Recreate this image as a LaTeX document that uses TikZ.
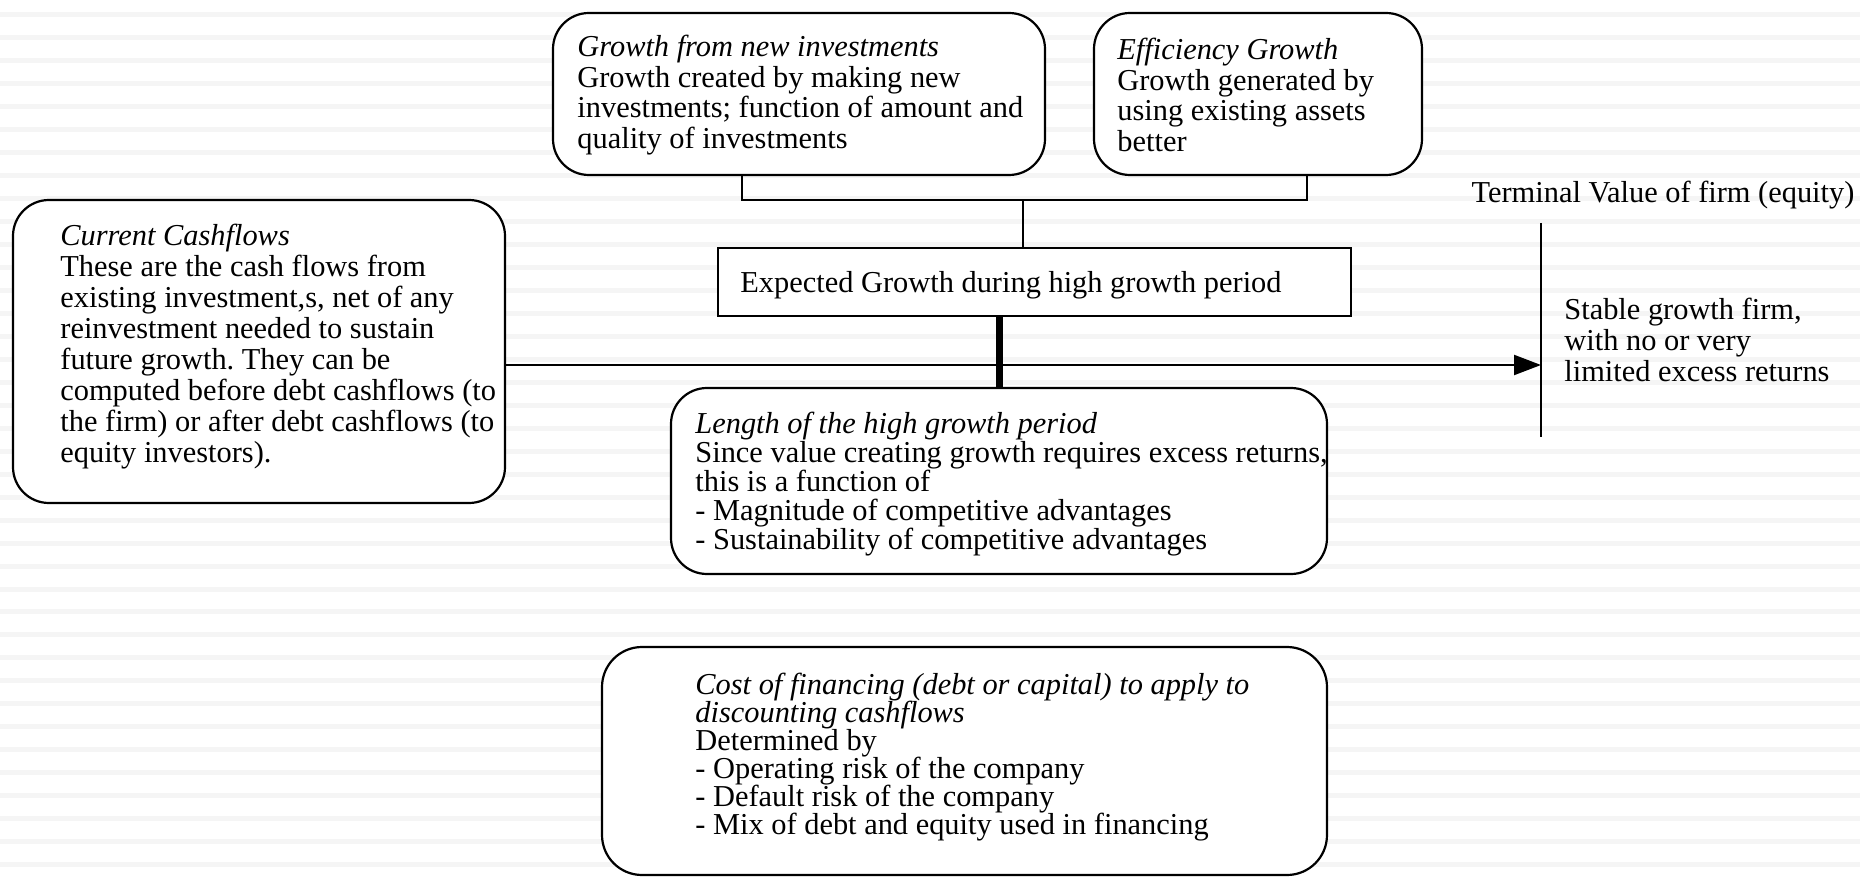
\documentclass[tikz,border=0pt]{standalone}
\usepackage{fontspec}
\setmainfont{Liberation Serif}
\frenchspacing
\usetikzlibrary{arrows.meta}
\tikzstyle{rbox}	= [draw=black, line width=1.1pt, fill=white, rounded corners=18pt, inner sep=0pt]
\tikzstyle{sbox}	= [draw=black, line width=1.1pt, fill=white, inner sep=0pt]
\tikzstyle{txt}		= [align=left, inner sep=0pt, anchor=west, font=\fontsize{15.2}{14.8}\selectfont]
\tikzstyle{stripe}	= [fill=black!4]
\tikzstyle{link}	= [draw, line width=1.1pt]
\tikzstyle{bar}		= [draw, line width=3.5pt]
\tikzstyle{flow}	= [draw, line width=1.1pt, -{Triangle[length=13.5pt,width=10pt]}]

\begin{document}
\begin{tikzpicture}[x=0.5pt, y=-0.5pt]
		\useasboundingbox (0,0) rectangle (1860,877);
		
		%%%% background stripes
		\foreach \k in {0,...,37}
		\fill[stripe] (0,{12+22.98*\k}) rectangle (1860,{17+22.98*\k});
		
		%%%% boxes
		\node[rbox, minimum width=246pt, minimum height=81pt] (newinv) at (799,94) {};
		\node[rbox, minimum width=164pt, minimum height=81pt] (effic) at (1258,94) {};
		\node[sbox, minimum width=316.5pt, minimum height=34pt] (expgr) at (1034.5,282) {};
		\node[rbox, minimum width=246pt, minimum height=151.5pt] (cash) at (259,351.5) {};
		\node[rbox, minimum width=328pt, minimum height=93pt] (hilen) at (999,481) {};
		\node[rbox, minimum width=362.5pt, minimum height=114pt, rounded corners=20pt] (cost) at (964.5,761) {};
		
		%%%% texts
		\node[txt, font=\fontsize{15.2}{15.4}\selectfont] (newinvt) at (577,95) {\textit{Growth from new investments}\\Growth created by making new\\investments; function of amount and\\quality of investments};
		\node[txt, font=\fontsize{15.2}{15.4}\selectfont] (effict) at (1117,95) {\textit{Efficiency Growth}\\Growth generated by\\using existing assets\\better};
		\node[txt] (expgrt) at (740,285) {Expected Growth during high growth period};
		\node[txt, font=\fontsize{15.2}{15.5}\selectfont] (casht) at (60,346.5) {\textit{Current Cashflows}\\These are the cash flows from\\existing investment,s, net of any\\reinvestment needed to sustain\\future growth. They can be\\computed before debt cashflows (to\\the firm) or after debt cashflows (to\\equity investors).};
		\node[txt, font=\fontsize{15.2}{14.5}\selectfont] (hilent) at (695,484) {\textit{Length of the high growth period}\\Since value creating growth requires excess returns,\\this is a function of\\- Magnitude of competitive advantages\\- Sustainability of competitive advantages};
		\node[txt, font=\fontsize{15.2}{14}\selectfont] (costt) at (695,757) {\textit{Cost of financing (debt or capital) to apply to}\\\textit{discounting cashflows}\\Determined by\\- Operating risk of the company\\- Default risk of the company\\- Mix of debt and equity used in financing};
		\node[txt, anchor=center] (term) at (1663,195) {Terminal Value of firm (equity)};
		\node[txt, font=\fontsize{15.2}{15.7}\selectfont] (stable) at (1564,340) {Stable growth firm,\\with no or very\\limited excess returns};
		
		%%%% links
		\coordinate (br) at (1023,200);
		\coordinate (tvtop) at (1541,223);
		\coordinate (tvbot) at (1541,437);
		\path[link] ([shift={(-57,0)}]newinv.south) |- (br) -| ([shift={(49,0)}]effic.south);
		\path[link] (br) -- (expgr.north -| br);
		\path[bar] (expgr.south -| hilen.north) -- (hilen.north);
		\path[link] (tvtop) -- (tvbot);
		\path[flow] ([shift={(0,13.5)}]cash.east) -- ([shift={(0,13.5)}]cash.east -| tvtop);
\end{tikzpicture}
\end{document}
